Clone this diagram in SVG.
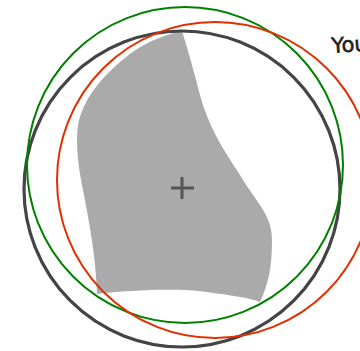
<svg xmlns="http://www.w3.org/2000/svg" width="360" height="351" viewBox="0 0 360 351">
<style>
.ring{fill:none}
.dark{stroke:#444;stroke-width:3.2}
.green{stroke:#008000;stroke-width:2}
.red{stroke:#e03000;stroke-width:2}
.lbl{font-family:"DejaVu Sans",sans-serif;font-size:21px;fill:#222;stroke:#222;stroke-width:0.6}
</style>
<rect width="360" height="351" fill="#fff"/>
<g id="shape">
<path d="M182,31 C160,36 140,45 125,58 C100,78 83,100 78,125 C76,140 77,160 82,185 C90,225 96,260 97,294 C130,290 180,288 206,292 C230,295 250,298 260,302 C268,285 272,268 272,240 C272,215 258,205 240,175 C222,148 208,125 200,95 C194,72 188,50 182,31 Z" fill="#aaa"/>
</g>
<g id="cross">
<path d="M171,188 H194 M182,177 V199" stroke="#555" stroke-width="3" fill="none"/>
</g>
<g id="circles">
<circle id="dark-circle" class="ring dark" cx="182" cy="189" r="158"/>
<circle id="green-circle" class="ring green" cx="185" cy="165" r="158"/>
<circle id="red-circle" class="ring red" cx="215" cy="180" r="158"/>
</g>
<g id="label">
<text class="lbl" x="332" y="53" transform="rotate(-4 332 53)">You</text>
</g>
</svg>
